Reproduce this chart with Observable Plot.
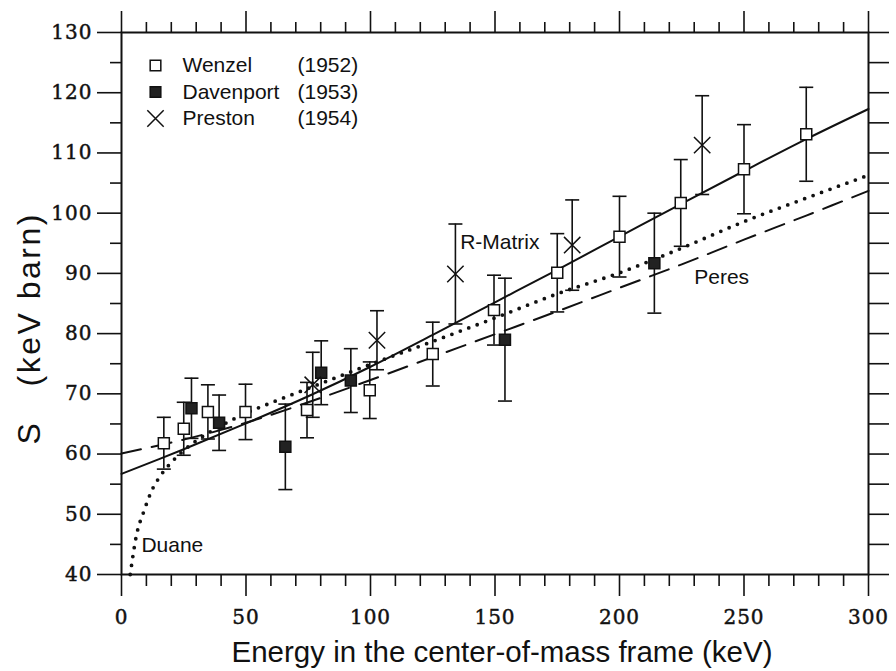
<!DOCTYPE html>
<html><head><meta charset="utf-8">
<script src="https://cdn.jsdelivr.net/npm/d3@7"></script>
<script src="https://cdn.jsdelivr.net/npm/@observablehq/plot@0.6"></script>
<style>
body{margin:0;background:#fff}
.ticklab text{letter-spacing:1px;stroke:#111;stroke-width:0.45px}
.ytitle text{letter-spacing:2.5px}
</style>
</head><body><div id="chart"></div>
<script>
// ---- data ----
const wenzelE   = [17, 25, 34.7, 49.8, 74.5, 99.7, 125, 149.6, 175, 200, 224.6, 250, 275];
const wenzelS   = [61.8, 64.2, 67.0, 67.0, 67.3, 70.6, 76.6, 83.9, 90.1, 96.1, 101.7, 107.3, 113.1];
const wenzelErr = [4.3, 4.4, 4.5, 4.6, 4.6, 4.7, 5.3, 5.8, 6.5, 6.7, 7.2, 7.4, 7.8];

const davenE   = [28.1, 39.2, 65.8, 80.2, 92.1, 154, 214];
const davenS   = [67.6, 65.2, 61.2, 73.5, 72.2, 79.0, 91.7];
const davenErr = [5.0, 4.6, 7.1, 5.3, 5.3, 10.2, 8.3];

const prestonE   = [76.8, 102.6, 134.1, 181, 233.2];
const prestonS   = [71.5, 78.9, 89.9, 94.7, 111.3];
const prestonErr = [5.4, 4.9, 8.3, 7.5, 8.2];

// R-Matrix (solid)
const rmatE = [0, 25, 50, 75, 100, 125, 150, 175, 200, 225, 250, 275, 300];
const rmatS = [56.7, 60.8, 65.1, 69.6, 74.5, 79.8, 85.2, 90.6, 96.1, 101.6, 107.0, 112.3, 117.3];
// Peres (dashed)
const peresE = [0, 25, 50, 75, 100, 125, 150, 175, 200, 225, 250, 275, 300];
const peresS = [60.1, 62.4, 65.2, 68.6, 72.3, 76.1, 79.9, 83.7, 87.6, 91.5, 95.6, 99.6, 103.7];
// Duane (dotted)
const duaneE = [3.5, 6, 9, 12, 16, 20, 25, 30, 40, 50, 60, 75, 100, 125, 150, 175, 200, 225, 250, 275, 300];
const duaneS = [40, 46.5, 50.5, 53.8, 56.6, 58.6, 60.6, 62.2, 64.7, 66.8, 68.5, 70.9, 74.9, 78.7, 82.6, 86.6, 90.1, 94.2, 98.6, 102.5, 106.3];

const curveLabels = ["R-Matrix", "Peres", "Duane"];
const curveLabelE = [136, 230, 8];
const curveLabelS = [95.1, 89.4, 44.8];

const legendNames = ["Wenzel", "Davenport", "Preston"];
const legendYears = ["(1952)", "(1953)", "(1954)"];

const xMajorTicks = [0, 50, 100, 150, 200, 250, 300];
const xMinorTicks = [10,20,30,40,60,70,80,90,110,120,130,140,160,170,180,190,210,220,230,240,260,270,280,290];
const yMajorTicks = [40, 50, 60, 70, 80, 90, 100, 110, 120, 130];
const yMinorTicks = [45, 55, 65, 75, 85, 95, 105, 115, 125];
const yRightTicks = [40,45,50,55,60,65,70,75,80,85,90,95,100,105,110,115,120,125,130];

const xTitle = "Energy in the center-of-mass frame (keV)";
const yTitle = "S\u00a0\u00a0\u00a0(keV barn)";

// ---- build ----
const pts = (E, S, Er) => E.map((e, i) => ({e, s: S[i], lo: S[i] - (Er ? Er[i] : 0), hi: S[i] + (Er ? Er[i] : 0)}));
const wenzel = pts(wenzelE, wenzelS, wenzelErr);
const daven = pts(davenE, davenS, davenErr);
const preston = pts(prestonE, prestonS, prestonErr);
const rmat = pts(rmatE, rmatS);
const peres = pts(peresE, peresS);
const duane = pts(duaneE, duaneS);
const labels = curveLabels.map((t, i) => ({t, e: curveLabelE[i], s: curveLabelS[i]}));

const INK = "#111";
const capSymbol = {draw(ctx, size) { const w = Math.sqrt(size / Math.PI); ctx.moveTo(-w, 0); ctx.lineTo(w, 0); }};
const tickFont = "DejaVu Serif";
const sans = "Liberation Sans, Arial, Helvetica, sans-serif";

function errorBars(data) {
  return [
    Plot.ruleX(data, {x: "e", y1: "lo", y2: "hi", stroke: INK, strokeWidth: 1.6}),
    Plot.dot(data, {x: "e", y: "lo", symbol: capSymbol, r: 7, stroke: INK, strokeWidth: 1.6, fill: "none"}),
    Plot.dot(data, {x: "e", y: "hi", symbol: capSymbol, r: 7, stroke: INK, strokeWidth: 1.6, fill: "none"})
  ];
}

const legendMarks = [];
const legendSym = [
  {symbol: "square", fill: "#fff", stroke: INK, r: 6},
  {symbol: "square", fill: "#222", stroke: INK, r: 6},
  {symbol: "times", fill: "none", stroke: INK, r: 7.5}
];
legendNames.forEach((name, i) => {
  const dy = 33 + i * 26.5;
  legendMarks.push(
    Plot.dot([0], {frameAnchor: "top-left", dx: 34, dy, strokeWidth: 1.5, ...legendSym[i]}),
    Plot.text([name], {frameAnchor: "top-left", dx: 61, dy, textAnchor: "start", lineAnchor: "middle", fontSize: 21, fontFamily: sans, fill: INK}),
    Plot.text([legendYears[i]], {frameAnchor: "top-left", dx: 176, dy, textAnchor: "start", lineAnchor: "middle", fontSize: 21, fontFamily: sans, fill: INK})
  );
});

const plot = Plot.plot({
  width: 896, height: 671,
  marginLeft: 121, marginRight: 28, marginTop: 32, marginBottom: 97,
  x: {domain: [0, 300]},
  y: {domain: [40, 130]},
  style: {background: "#fff", color: INK, overflow: "visible"},
  marks: [
    // axes
    Plot.axisX({ticks: xMajorTicks, anchor: "bottom", tickSize: 22, tickPadding: 13, fontSize: 20, fontFamily: tickFont, label: null, stroke: INK, strokeWidth: 1.6, fill: INK, tickFormat: d => String(d), className: "ticklab"}),
    Plot.axisX({ticks: xMinorTicks, anchor: "bottom", tickSize: 12, label: null, stroke: INK, strokeWidth: 1.6, tickFormat: () => ""}),
    Plot.axisX({ticks: xMajorTicks, anchor: "top", tickSize: 22, label: null, stroke: INK, strokeWidth: 1.6, tickFormat: () => ""}),
    Plot.axisX({ticks: xMinorTicks, anchor: "top", tickSize: 11, label: null, stroke: INK, strokeWidth: 1.6, tickFormat: () => ""}),
    Plot.axisY({ticks: yMajorTicks, anchor: "left", tickSize: 24, tickPadding: 5, fontSize: 20, fontFamily: tickFont, label: null, stroke: INK, strokeWidth: 1.6, fill: INK, tickFormat: d => String(d), className: "ticklab"}),
    Plot.axisY({ticks: yMinorTicks, anchor: "left", tickSize: 11, label: null, stroke: INK, strokeWidth: 1.6, tickFormat: () => ""}),
    Plot.axisY({ticks: yRightTicks, anchor: "right", tickSize: 20, label: null, stroke: INK, strokeWidth: 1.6, tickFormat: () => ""}),
    Plot.frame({stroke: INK, strokeWidth: 2}),
    // curves
    Plot.line(rmat, {x: "e", y: "s", stroke: INK, strokeWidth: 2, curve: "catmull-rom"}),
    Plot.line(peres, {x: "e", y: "s", stroke: INK, strokeWidth: 2, strokeDasharray: "20 11", curve: "catmull-rom"}),
    Plot.line(duane, {x: "e", y: "s", stroke: INK, strokeWidth: 3.8, strokeDasharray: "0 9", strokeLinecap: "round", curve: "monotone-x"}),
    // error bars
    ...errorBars(wenzel), ...errorBars(daven), ...errorBars(preston),
    // points
    Plot.dot(wenzel, {x: "e", y: "s", symbol: "square", r: 6.2, fill: "#fff", stroke: INK, strokeWidth: 1.5}),
    Plot.dot(daven, {x: "e", y: "s", symbol: "square", r: 6.2, fill: "#222", stroke: INK, strokeWidth: 1.5}),
    Plot.dot(preston, {x: "e", y: "s", symbol: "times", r: 7.5, fill: "none", stroke: INK, strokeWidth: 1.5}),
    // curve labels
    Plot.text(labels, {x: "e", y: "s", text: "t", textAnchor: "start", lineAnchor: "middle", fontSize: 21, fontFamily: sans, fill: INK}),
    // legend
    ...legendMarks,
    // axis titles
    Plot.text([xTitle], {frameAnchor: "bottom", dx: 7, dy: 78, lineAnchor: "middle", fontSize: 29.5, fontFamily: sans, fill: INK}),
    Plot.text([yTitle], {frameAnchor: "left", dx: -92, dy: 141, rotate: -90, lineAnchor: "middle", fontSize: 32, fontFamily: sans, fill: INK, className: "ytitle"})
  ]
});
document.getElementById("chart").appendChild(plot);
</script>
</body></html>
